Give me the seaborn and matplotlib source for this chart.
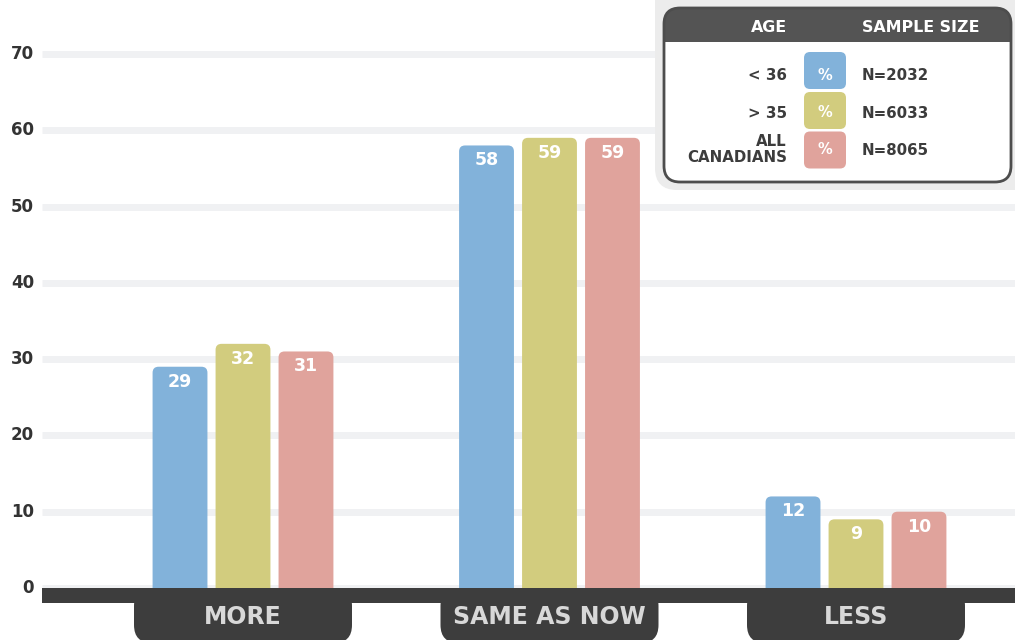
import matplotlib
matplotlib.use("Agg")
import matplotlib.pyplot as plt
from matplotlib.patches import FancyBboxPatch, Rectangle
import seaborn as sns
import pandas as pd

# ---- data ----
categories = ["MORE", "SAME AS NOW", "LESS"]
age_groups = ["< 36", "> 35", "ALL\nCANADIANS"]
under36 = [29, 58, 12]
over35 = [32, 59, 9]
all_canadians = [31, 59, 10]
sample_sizes = ["N=2032", "N=6033", "N=8065"]
yticks = [0, 10, 20, 30, 40, 50, 60, 70]
colors = ["#82b2da", "#d2cc7e", "#e0a39c"]

rows = []
for g, vals in zip(age_groups, [under36, over35, all_canadians]):
    for c, v in zip(categories, vals):
        rows.append({"answer": c, "age": g, "pct": v})
df = pd.DataFrame(rows)

sns.set_theme(style="white")
plt.rcParams["font.family"] = ["DejaVu Sans"]

fig = plt.figure(figsize=(10.15, 6.4), dpi=100)
ax = fig.add_axes([0, 0, 1, 1])

sns.barplot(data=df, x="answer", y="pct", hue="age", hue_order=age_groups,
            order=categories, palette=colors, width=0.6165, gap=0.129,
            saturation=1, ax=ax, legend=False, zorder=2)

PXX = 306.5   # px per x unit
PXY = 7.63    # px per y unit
XL, XR = -243 / PXX, 2 + 159 / PXX
YB, YT = -52 / PXY, 588 / PXY
aspect = PXX / PXY

# rounded bars
bars = list(ax.patches)
for p in bars:
    x, w, h = p.get_x(), p.get_width(), p.get_height()
    fc = p.get_facecolor()
    p.remove()
    ax.add_patch(FancyBboxPatch((x, -3), w, h + 3,
                                boxstyle=f"round,pad=0,rounding_size={6/PXX}",
                                mutation_aspect=aspect, facecolor=fc,
                                edgecolor="none", zorder=2))
    ax.text(x + w / 2, h - 1.95, f"{int(round(h))}", ha="center", va="center",
            color="white", fontsize=12.5, fontweight="bold", zorder=4)

# gridlines
grid_left = (42 - 243) / PXX
ax.hlines(yticks, grid_left, XR, color="#f0f1f3", lw=5, zorder=0)
for t in yticks:
    ax.text((34 - 243) / PXX, t, str(t), ha="right", va="center",
            fontsize=12, fontweight="bold", color="#333333")

# axis bar
ax.add_patch(Rectangle((grid_left, -15 / PXY), XR - grid_left + 0.1, 15 / PXY,
                       facecolor="#3d3d3d", edgecolor="none", zorder=3))
# category tabs
tab_w = 218 / PXX
tab_bottom = (588 - 643) / PXY
for i, c in enumerate(categories):
    ax.add_patch(FancyBboxPatch((i - tab_w / 2, tab_bottom), tab_w, -tab_bottom,
                                boxstyle=f"round,pad=0,rounding_size={18/PXX}",
                                mutation_aspect=aspect, facecolor="#3d3d3d",
                                edgecolor="none", zorder=3))
    ax.text(i, (588 - 617) / PXY, c, ha="center", va="center",
            fontsize=17, fontweight="bold", color="#d8d8d8", zorder=4)

ax.set_xlim(XL, XR)
ax.set_ylim(YB, YT)
ax.axis("off")

# ---- legend overlay in pixel coordinates ----
ax2 = fig.add_axes([0, 0, 1, 1])
ax2.set_xlim(0, 1015)
ax2.set_ylim(640, 0)
ax2.axis("off")
ax2.patch.set_alpha(0)

ax2.add_patch(FancyBboxPatch((655, -20), 380, 210,
                             boxstyle="round,pad=0,rounding_size=22",
                             facecolor="#ececec", edgecolor="none"))
ax2.add_patch(FancyBboxPatch((664, 8), 347, 174,
                             boxstyle="round,pad=0,rounding_size=16",
                             facecolor="white", edgecolor="none"))
ax2.add_patch(FancyBboxPatch((664, 8), 347, 50,
                             boxstyle="round,pad=0,rounding_size=16",
                             facecolor="#545454", edgecolor="none"))
ax2.add_patch(Rectangle((664, 42), 347, 20, facecolor="white", edgecolor="none"))
ax2.add_patch(FancyBboxPatch((664, 8), 347, 174,
                             boxstyle="round,pad=0,rounding_size=16",
                             facecolor="none", edgecolor="#4d4d4d", lw=2))

ax2.text(787, 28, "AGE", ha="right", va="center", color="white",
         fontsize=11.4, fontweight="bold")
ax2.text(862, 28, "SAMPLE SIZE", ha="left", va="center", color="white",
         fontsize=11.4, fontweight="bold")

swatch_y = [70.5, 110.5, 150]
text_y = [76, 113.5, 150.5]
for sy, ty, lab, n, col in zip(swatch_y, text_y, age_groups, sample_sizes, colors):
    ax2.add_patch(FancyBboxPatch((804, sy - 18.5), 42, 37,
                                 boxstyle="round,pad=0,rounding_size=6",
                                 facecolor=col, edgecolor="none"))
    ax2.text(825, ty - 1, "%", ha="center", va="center", color="white",
             fontsize=10.5, fontweight="bold")
    ax2.text(787, ty - (1 if "\n" in lab else 0), lab, ha="right",
             va="center", color="#3c3c3c", fontsize=10.8, fontweight="bold",
             linespacing=1.0, multialignment="right")
    ax2.text(862, ty, n, ha="left", va="center", color="#3c3c3c",
             fontsize=10.8, fontweight="bold")

fig.savefig("out.png", dpi=100)
